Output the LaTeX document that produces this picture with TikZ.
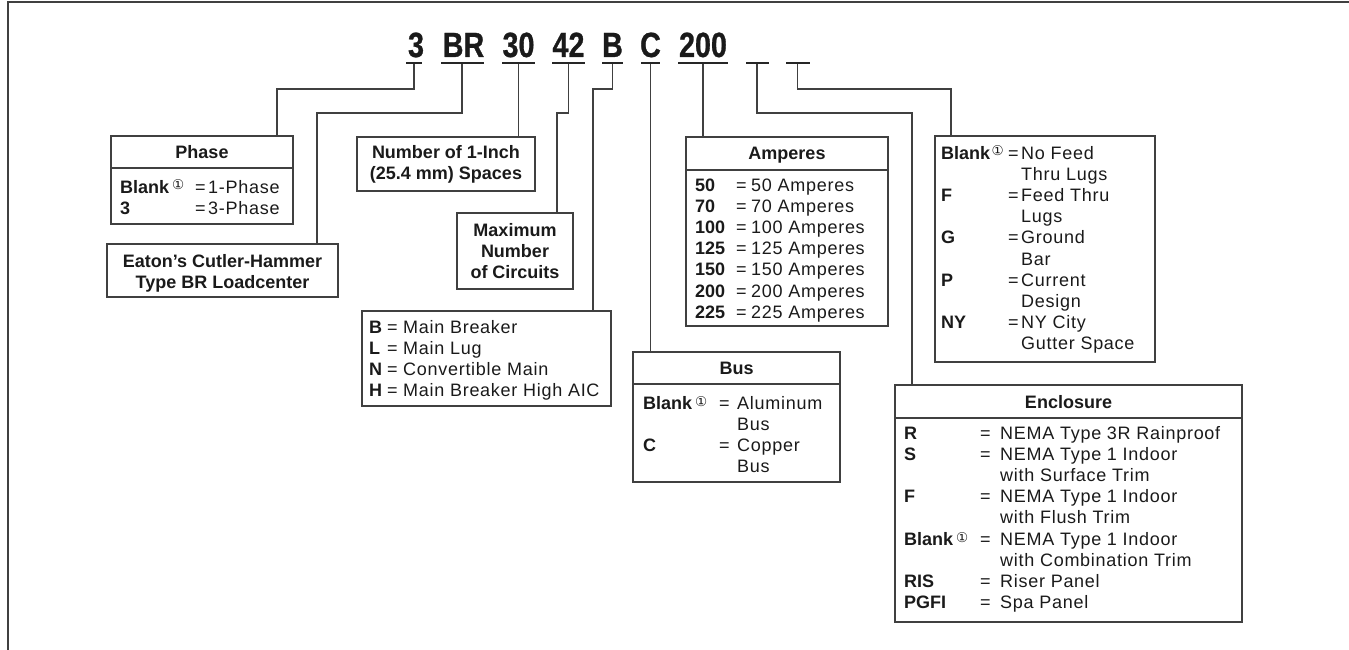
\documentclass[tikz,border=0pt]{standalone}
\usepackage{fontspec}
\usepackage{array}
\setmainfont{Liberation Sans}[UprightFeatures={LetterSpace=4}]
\newfontfamily\codefont{Liberation Sans}[FakeStretch=0.82, FakeBold=0.8]
\newfontfamily\circfont{DejaVu Sans}
\newcommand\myone{\raisebox{3pt}{\circfont\mdseries\fontsize{13.5}{13.5}\selectfont ①}}
\definecolor{linec}{HTML}{404040}
\definecolor{textc}{HTML}{1A1A1A}
\begin{document}
\begin{tikzpicture}[x=1pt,y=-1pt,
  every node/.style={text=textc},
  boxst/.style={draw=linec, line width=1.6pt, inner sep=0pt, outer sep=0pt, rectangle},
  conn/.style={draw=linec, line width=1.6pt},
  uln/.style={fill=black!85, inner sep=0pt, outer sep=0pt, minimum height=2.8pt},
  code/.style={font=\codefont\bfseries\fontsize{35}{35}\selectfont, inner sep=0pt, anchor=base},
  txt/.style={font=\fontsize{18}{21.2}\selectfont, inner sep=0pt},
  hd/.style={inner sep=0pt, font=\fontsize{18}{21.2}\selectfont\bfseries, anchor=base},
]
\useasboundingbox (0,0) rectangle (1349,650);
% frame
\draw[linec, line width=1.8pt] (8,650) -- (8,2) -- (1349,2);

% code letters
\node[code] (t3) at (416,57) {3};
\node[code] (tBR) at (463.5,57) {BR};
\node[code] (t30) at (518.5,57) {30};
\node[code] (t42) at (568.5,57) {42};
\node[code] (tB) at (612.5,57) {B};
\node[code] (tC) at (650.5,57) {C};
\node[code] (t200) at (703,57) {200};

% underlines
\node[uln, minimum width=16pt] (u3) at (414,63) {};
\node[uln, minimum width=43pt] (uBR) at (462,63) {};
\node[uln, minimum width=33pt] (u30) at (518.5,63) {};
\node[uln, minimum width=33pt] (u42) at (568.5,63) {};
\node[uln, minimum width=21pt] (uB) at (612.5,63) {};
\node[uln, minimum width=19pt] (uC) at (650.5,63) {};
\node[uln, minimum width=50pt] (u200) at (703,63) {};
\node[uln, minimum width=23pt] (ub1) at (757,63) {};
\node[uln, minimum width=24pt] (ub2) at (797.5,63) {};

% boxes
\node[boxst, minimum width=182pt, minimum height=88pt] (phase) at (202,180) {};
\node[boxst, minimum width=178pt, minimum height=54pt] (num) at (446,164) {};
\node[boxst, minimum width=116pt, minimum height=76pt] (max) at (515,251) {};
\node[boxst, minimum width=231pt, minimum height=53pt] (eaton) at (222.5,270.5) {};
\node[boxst, minimum width=249pt, minimum height=95pt] (bbox) at (486.5,358.5) {};
\node[boxst, minimum width=202pt, minimum height=189pt] (amp) at (787,231.5) {};
\node[boxst, minimum width=207pt, minimum height=130pt] (bus) at (736.5,417) {};
\node[boxst, minimum width=220pt, minimum height=226pt] (feed) at (1045,249) {};
\node[boxst, minimum width=347pt, minimum height=237pt] (encl) at (1068.5,503.5) {};

% header separators
\coordinate (sPh) at (0,168);
\coordinate (sAm) at (0,170);
\coordinate (sBu) at (0,384);
\coordinate (sEn) at (0,418);
\draw[conn] (phase.west |- sPh) -- (phase.east |- sPh);
\draw[conn] (amp.west |- sAm) -- (amp.east |- sAm);
\draw[conn] (bus.west |- sBu) -- (bus.east |- sBu);
\draw[conn] (encl.west |- sEn) -- (encl.east |- sEn);

% connectors
\draw[conn] (u3) -- ++(0,26) -| ([xshift=75pt]phase.north);
\draw[conn] (uBR) -- ++(0,50) -| ([xshift=94.5pt]eaton.north);
\draw[conn] (u30) -- (u30 |- num.north);
\draw[conn] (u42) -- ++(0,50) -| ([xshift=42pt]max.north);
\draw[conn] (uB) -- ++(0,26) -| ([xshift=106.5pt]bbox.north);
\draw[conn] (uC) -- (uC |- bus.north);
\draw[conn] (u200) -- (u200 |- amp.north);
\draw[conn] (ub1) -- ++(0,50) -| ([xshift=-156.5pt]encl.north);
\draw[conn] (ub2) -- ++(0,26) -| ([xshift=-94pt]feed.north);

% texts
\node[hd] (phH) at (202,158) {Phase};
\node[txt, anchor=base west] (phB) at (120,193) {\begin{tabular}[t]{@{}>{\bfseries}p{75pt}@{}p{13pt}@{}l@{}}Blank\,\myone & = & 1-Phase\\ 3 & = & 3-Phase\end{tabular}};

\node[hd] (numT) at (446,158) {\begin{tabular}[t]{@{}c@{}}Number of 1-Inch\\(25.4 mm) Spaces\end{tabular}};
\node[hd] (maxT) at (515,236) {\begin{tabular}[t]{@{}c@{}}Maximum\\Number\\of Circuits\end{tabular}};
\node[hd] (eatT) at (222.5,267) {\begin{tabular}[t]{@{}c@{}}Eaton’s Cutler-Hammer\\Type BR Loadcenter\end{tabular}};

\node[txt, anchor=base west] (bT) at (369,333) {\begin{tabular}[t]{@{}>{\bfseries}p{18pt}@{}p{16pt}@{}l@{}}B & = & Main Breaker\\ L & = & Main Lug\\ N & = & Convertible Main\\ H & = & Main Breaker High AIC\end{tabular}};

\node[hd] (ampH) at (787,159) {Amperes};
\node[txt, anchor=base west] (ampT) at (695,191) {\begin{tabular}[t]{@{}>{\bfseries}p{41pt}@{}p{15pt}@{}l@{}}50 & = & 50 Amperes\\ 70 & = & 70 Amperes\\ 100 & = & 100 Amperes\\ 125 & = & 125 Amperes\\ 150 & = & 150 Amperes\\ 200 & = & 200 Amperes\\ 225 & = & 225 Amperes\end{tabular}};

\node[hd] (busH) at (736.5,374) {Bus};
\node[txt, anchor=base west] (busT) at (643,409) {\begin{tabular}[t]{@{}>{\bfseries}p{76pt}@{}p{18pt}@{}l@{}}Blank\,\myone & = & Aluminum\\ & & Bus\\ C & = & Copper\\ & & Bus\end{tabular}};

\node[txt, anchor=base west] (feedT) at (941,159) {\begin{tabular}[t]{@{}>{\bfseries}p{67pt}@{}p{13pt}@{}l@{}}Blank\kern1.5pt\myone & = & No Feed\\ & & Thru Lugs\\ F & = & Feed Thru\\ & & Lugs\\ G & = & Ground\\ & & Bar\\ P & = & Current\\ & & Design\\ NY & = & NY City\\ & & Gutter Space\end{tabular}};

\node[hd] (enH) at (1068.5,408) {Enclosure};
\node[txt, anchor=base west] (enT) at (904,439) {\begin{tabular}[t]{@{}>{\bfseries}p{76pt}@{}p{20pt}@{}l@{}}R & = & NEMA Type 3R Rainproof\\ S & = & NEMA Type 1 Indoor\\ & & with Surface Trim\\ F & = & NEMA Type 1 Indoor\\ & & with Flush Trim\\ Blank\,\myone & = & NEMA Type 1 Indoor\\ & & with Combination Trim\\ RIS & = & Riser Panel\\ PGFI & = & Spa Panel\end{tabular}};
\end{tikzpicture}
\end{document}
